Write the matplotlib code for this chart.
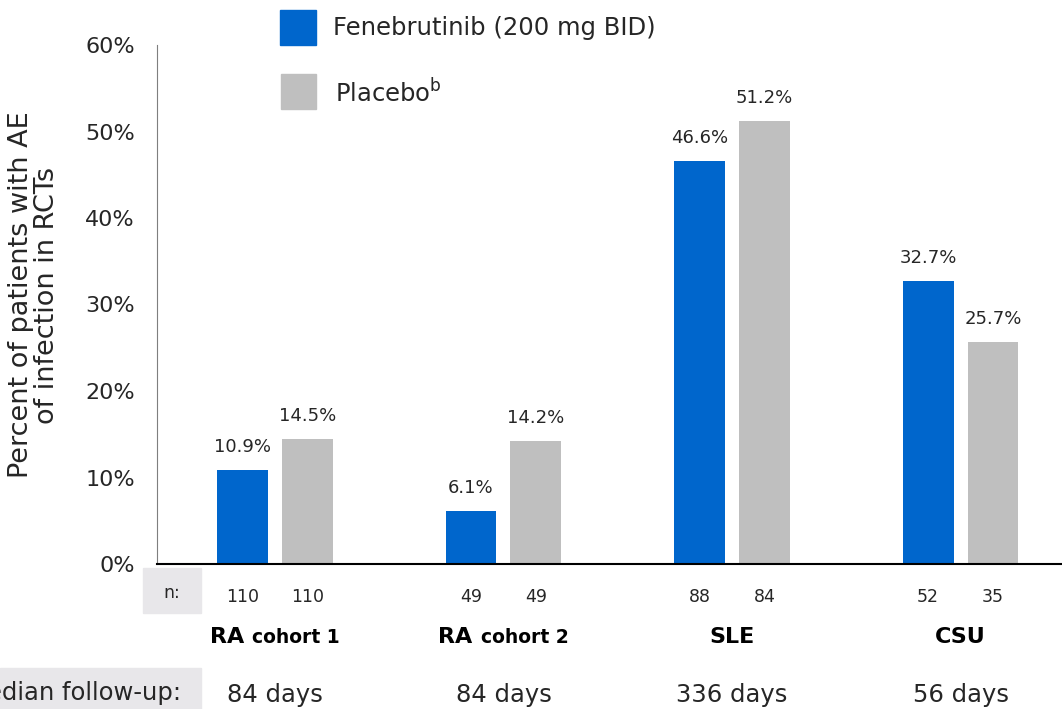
import matplotlib.pyplot as plt
from matplotlib.patches import Rectangle
from matplotlib.transforms import blended_transform_factory
from matplotlib.offsetbox import TextArea, HPacker, AnnotationBbox

plt.rcParams['font.family'] = ['DejaVu Sans']

groups_main = ["RA", "RA", "SLE", "CSU"]
groups_sub = ["cohort 1", "cohort 2", "", ""]
fene = [10.9, 6.1, 46.6, 32.7]
placebo = [14.5, 14.2, 51.2, 25.7]
n_fene = [110, 49, 88, 52]
n_placebo = [110, 49, 84, 35]
follow_up = ["84 days", "84 days", "336 days", "56 days"]

blue = "#0066CC"
grey = "#BFBFBF"
text_col = "#262626"

W, H = 1062, 709
fig = plt.figure(figsize=(W / 100, H / 100), dpi=100)
ax = fig.add_axes([157 / W, 1 - 564 / H, 1 - 157 / W, (564 - 45) / H])

x = list(range(len(fene)))
bw = 0.223
off = 0.142
xb = [i - off for i in x]
xg = [i + off for i in x]
ax.bar(xb, fene, width=bw, color=blue, zorder=2)
ax.bar(xg, placebo, width=bw, color=grey, zorder=2)

for xs, vals in ((xb, fene), (xg, placebo)):
    for xi, v in zip(xs, vals):
        ax.annotate(f"{v:.1f}%", (xi, v), xytext=(0, 10), textcoords="offset points",
                    ha="center", va="bottom", fontsize=13, color=text_col)

ax.set_xlim(-0.516, 3.444)
ax.set_ylim(0, 60)
ax.set_yticks(range(0, 61, 10))
ax.set_yticklabels([f"{t}%" for t in range(0, 61, 10)], fontsize=16, color=text_col)
ax.set_xticks([])
ax.tick_params(axis="y", length=0, pad=16)
ax.spines["top"].set_visible(False)
ax.spines["right"].set_visible(False)
ax.spines["left"].set_color("#7f7f7f")
ax.spines["bottom"].set_color("black")
ax.spines["bottom"].set_linewidth(1.5)

fig.text(34 / W, 1 - 295 / H, "Percent of patients with AE\nof infection in RCTs",
         rotation=90, ha="center", va="center", fontsize=19.5, color=text_col,
         linespacing=1.0)

# shaded label boxes
fig.patches.append(Rectangle((143 / W, 1 - 613 / H), 58 / W, 45 / H,
                             transform=fig.transFigure, color="#E8E7EA", zorder=0))
fig.patches.append(Rectangle((0, 0), 201 / W, 41 / H,
                             transform=fig.transFigure, color="#E8E7EA", zorder=0))
fig.text(172 / W, 1 - 593 / H, "n:", ha="center", va="center", fontsize=12.5, color=text_col)
fig.text(181 / W, 1 - 693 / H, "Median follow-up:", ha="right", va="center",
         fontsize=17.5, color=text_col)

tr = blended_transform_factory(ax.transData, fig.transFigure)
for i in x:
    ax.text(xb[i], 1 - 597 / H, str(n_fene[i]), transform=tr, ha="center", va="center",
            fontsize=12.5, color=text_col)
    ax.text(xg[i], 1 - 597 / H, str(n_placebo[i]), transform=tr, ha="center", va="center",
            fontsize=12.5, color=text_col)
    ax.text(i, 1 - 695 / H, follow_up[i], transform=tr, ha="center", va="center",
            fontsize=17.5, color=text_col)
    parts = [TextArea(groups_main[i], textprops=dict(fontsize=16, fontweight="bold", color="black"))]
    if groups_sub[i]:
        parts.append(TextArea(groups_sub[i], textprops=dict(fontsize=13.5, fontweight="bold", color="black")))
    box = HPacker(children=parts, align="baseline", pad=0, sep=6)
    ab = AnnotationBbox(box, (i, 1 - 637 / H), xycoords=tr, frameon=False,
                        box_alignment=(0.5, 0.5), annotation_clip=False)
    ax.add_artist(ab)

# legend
fig.patches.append(Rectangle((280 / W, 1 - 45 / H), 36 / W, 35 / H,
                             transform=fig.transFigure, color=blue))
fig.patches.append(Rectangle((281 / W, 1 - 109 / H), 35 / W, 35 / H,
                             transform=fig.transFigure, color=grey))
fig.text(333 / W, 1 - 28 / H, "Fenebrutinib (200 mg BID)", ha="left", va="center",
         fontsize=17.5, color=text_col)
fig.text(335 / W, 1 - 93 / H, r"Placebo$^{\mathrm{b}}$", ha="left", va="center",
         fontsize=17.5, color=text_col)

fig.savefig("out.png", dpi=100)
